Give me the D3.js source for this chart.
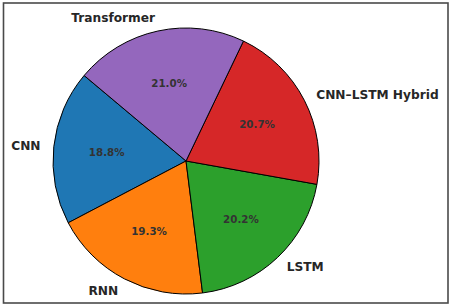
<!DOCTYPE html>
<html lang="en">
<head>
  <meta charset="UTF-8" />
  <title>Model share pie</title>
  <script src="https://cdn.jsdelivr.net/npm/d3@7"></script>
  <style>
    body {
      margin: 0;
      background: #fff;
    }
    svg text {
      font-family: "DejaVu Sans", sans-serif;
      font-weight: bold;
      fill: #262626;
    }
  </style>
</head>
<body>
  <div id="chart"></div>

  <script>
    // values
    const models = ["CNN", "RNN", "LSTM", "CNN\u2013LSTM Hybrid", "Transformer"];
    const shares = [18.8, 19.3, 20.2, 20.7, 21.0];
    const colors = ["#1f77b4", "#ff7f0e", "#2ca02c", "#d62728", "#9467bd"];

    const width = 451;
    const height = 306;
    const cx = 186, cy = 161;
    const r = 133;

    const svg = d3.select("#chart")
      .append("svg")
      .attr("width", width)
      .attr("height", height);

    // outer frame
    svg.append("rect")
      .attr("x", 3.5)
      .attr("y", 3)
      .attr("width", 444.5)
      .attr("height", 300)
      .attr("fill", "none")
      .attr("stroke", "#4a4a4a")
      .attr("stroke-width", 1.6);

    const data = models.map((m, i) => ({ model: m, share: shares[i], color: colors[i] }));

    // matplotlib style: start at 140deg, counterclockwise
    const start = (90 - 140) * Math.PI / 180;
    const pie = d3.pie()
      .sort(null)
      .value(d => d.share)
      .startAngle(start)
      .endAngle(start - 2 * Math.PI);

    const arcs = pie(data);

    const arc = d3.arc().innerRadius(0).outerRadius(r);
    const labelArc = d3.arc().innerRadius(r * 1.1).outerRadius(r * 1.1);
    const pctArc = d3.arc().innerRadius(r * 0.6).outerRadius(r * 0.6);

    const g = svg.append("g")
      .attr("transform", `translate(${cx}, ${cy})`);

    g.selectAll("path")
      .data(arcs)
      .enter()
      .append("path")
      .attr("d", arc)
      .attr("fill", d => d.data.color)
      .attr("stroke", "#000")
      .attr("stroke-width", 1);

    g.selectAll(".label")
      .data(arcs)
      .enter()
      .append("text")
      .attr("class", "label")
      .attr("x", d => labelArc.centroid(d)[0])
      .attr("y", d => labelArc.centroid(d)[1])
      .attr("dy", "0.36em")
      .attr("text-anchor", d => labelArc.centroid(d)[0] < 0 ? "end" : "start")
      .style("font-size", "12.2px")
      .text(d => d.data.model);

    const total = d3.sum(shares);
    g.selectAll(".pct")
      .data(arcs)
      .enter()
      .append("text")
      .attr("class", "pct")
      .attr("x", d => pctArc.centroid(d)[0])
      .attr("y", d => pctArc.centroid(d)[1])
      .attr("dy", "0.36em")
      .attr("text-anchor", "middle")
      .style("font-size", "10.3px")
      .style("fill", "#333")
      .text(d => (d.data.share / total * 100).toFixed(1) + "%");
  </script>
</body>
</html>
